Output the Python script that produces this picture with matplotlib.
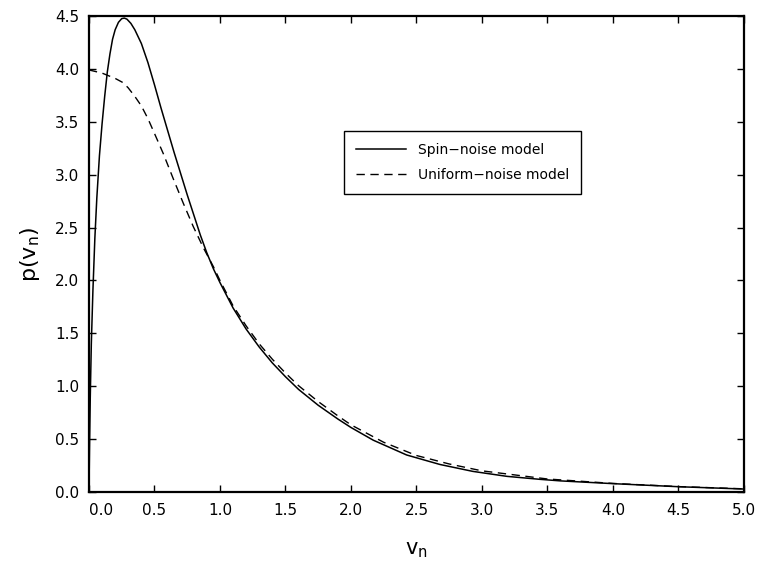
import numpy as np
import matplotlib
matplotlib.use("Agg")
import matplotlib.pyplot as plt

plt.rcParams["font.family"] = "DejaVu Sans"
plt.rcParams["mathtext.default"] = "regular"

# Spin-noise model
spin_v = [0.000, 0.004, 0.010, 0.018, 0.030, 0.045, 0.060, 0.080, 0.100, 0.120,
          0.140, 0.160, 0.180, 0.200, 0.225, 0.250, 0.270, 0.290, 0.320, 0.350,
          0.400, 0.450, 0.500, 0.550, 0.600, 0.650, 0.700, 0.750, 0.800, 0.850,
          0.900, 0.950, 1.000, 1.100, 1.200, 1.300, 1.400, 1.500, 1.600, 1.750,
          1.900, 2.000, 2.170, 2.425, 2.680, 2.930, 3.190, 3.440, 3.600, 4.000,
          4.500, 5.000]
spin_p = [0.00, 0.40, 0.90, 1.40, 1.90, 2.40, 2.78, 3.18, 3.48, 3.74,
          3.97, 4.14, 4.28, 4.37, 4.44, 4.475, 4.48, 4.47, 4.43, 4.37,
          4.24, 4.06, 3.85, 3.63, 3.42, 3.21, 3.01, 2.81, 2.62, 2.43,
          2.26, 2.11, 1.98, 1.74, 1.54, 1.37, 1.22, 1.09, 0.97, 0.82,
          0.69, 0.61, 0.49, 0.35, 0.26, 0.195, 0.148, 0.120, 0.105, 0.079,
          0.050, 0.028]

# Uniform-noise model
unif_v = [0.000, 0.100, 0.200, 0.260, 0.300, 0.350, 0.400, 0.450, 0.500, 0.567,
          0.644, 0.720, 0.796, 0.873, 0.950, 1.000, 1.100, 1.200, 1.300, 1.400,
          1.500, 1.600, 1.750, 1.900, 2.000, 2.250, 2.500, 2.750, 3.000, 3.500,
          4.000, 4.500, 5.000]
unif_p = [3.99, 3.96, 3.91, 3.87, 3.82, 3.74, 3.65, 3.53, 3.39, 3.20,
          2.96, 2.73, 2.51, 2.31, 2.13, 2.00, 1.76, 1.57, 1.40, 1.255,
          1.125, 1.005, 0.855, 0.72, 0.635, 0.47, 0.345, 0.265, 0.200, 0.123,
          0.081, 0.051, 0.030]

xticks = [0.0, 0.5, 1.0, 1.5, 2.0, 2.5, 3.0, 3.5, 4.0, 4.5, 5.0]
yticks = [0.0, 0.5, 1.0, 1.5, 2.0, 2.5, 3.0, 3.5, 4.0, 4.5]

fig = plt.figure(figsize=(7.63, 5.61), dpi=100)
ax = fig.add_axes([0.1166, 0.123, 0.8584, 0.8485])

ax.plot(spin_v, spin_p, color="black", lw=1.1, label="Spin\u2212noise model")
ax.plot(unif_v, unif_p, color="black", lw=1.0, dashes=(6, 4),
        label="Uniform\u2212noise model")

ax.set_xlim(0, 5.0)
ax.set_ylim(0, 4.5)
ax.set_xticks(xticks)
ax.set_yticks(yticks)
ax.set_xticklabels([f"{t:.1f}" for t in xticks])
ax.set_yticklabels([f"{t:.1f}" for t in yticks])
ax.get_xticklabels()[0].set_horizontalalignment("left")

ax.tick_params(direction="in", length=5, width=1, top=True, right=True,
               labelsize=11, pad=8, colors="black")
ax.tick_params(axis="y", pad=7)
for s in ax.spines.values():
    s.set_linewidth(1.6)

ax.set_xlabel("v$_{n}$", fontsize=15, labelpad=16)
ax.set_ylabel("p(v$_{n}$)", fontsize=16, labelpad=9)

leg = ax.legend(loc="upper left", bbox_to_anchor=(0.389, 0.758), borderaxespad=0,
                fancybox=False, edgecolor="black", fontsize=10, handlelength=3.6,
                handletextpad=0.9, borderpad=0.85, labelspacing=0.8, framealpha=1)
leg.get_frame().set_linewidth(1.0)

fig.savefig("out.png", dpi=100)
